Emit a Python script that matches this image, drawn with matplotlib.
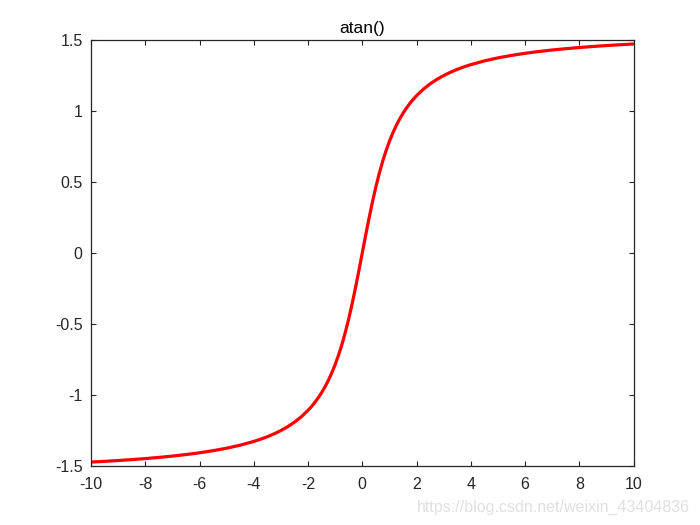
import matplotlib
matplotlib.use("Agg")
import matplotlib.pyplot as plt

# Values (atan shape)
x_pos = [0, 0.125, 0.25, 0.375, 0.5, 0.625, 0.75, 0.875, 1, 1.125, 1.25, 1.375, 1.5,
         1.625, 1.75, 1.875, 2, 2.25, 2.5, 2.75, 3, 3.25, 3.5, 3.75, 4, 4.5, 5, 5.5,
         6, 6.5, 7, 7.5, 8, 8.5, 9, 9.5, 10]
y_pos = [0.0, 0.1244, 0.2450, 0.3588, 0.4636, 0.5586, 0.6435, 0.7188, 0.7854, 0.8442,
         0.8961, 0.9420, 0.9828, 1.0190, 1.0517, 1.0808, 1.1071, 1.1526, 1.1903,
         1.2220, 1.2490, 1.2723, 1.2925, 1.3102, 1.3258, 1.3521, 1.3734, 1.3909,
         1.4056, 1.4181, 1.4289, 1.4382, 1.4464, 1.4537, 1.4601, 1.4659, 1.4711]
x_vals = [-v for v in x_pos[:0:-1]] + x_pos
y_vals = [-v for v in y_pos[:0:-1]] + y_pos
x_ticks = [-10, -8, -6, -4, -2, 0, 2, 4, 6, 8, 10]
x_labels = ["-10", "-8", "-6", "-4", "-2", "0", "2", "4", "6", "8", "10"]
y_ticks = [-1.5, -1, -0.5, 0, 0.5, 1, 1.5]
y_labels = ["-1.5", "-1", "-0.5", "0", "0.5", "1", "1.5"]
title = "atan()"
watermark = "https://blog.csdn.net/weixin_43404836"

plt.rcParams['font.family'] = ['Liberation Sans', 'DejaVu Sans']
fig = plt.figure(figsize=(7, 5.25), dpi=100)
ax = fig.add_axes([0.13, 0.112, 0.775, 0.812])
dark = (0.15, 0.15, 0.15)
ax.plot(x_vals, y_vals, color=(1, 0, 0), lw=2.3, solid_joinstyle='round')
ax.set_xlim(-10, 10)
ax.set_ylim(-1.5, 1.5)
ax.set_xticks(x_ticks)
ax.set_xticklabels(x_labels)
ax.set_yticks(y_ticks)
ax.set_yticklabels(y_labels)
ax.tick_params(direction='in', top=True, right=True, length=3.8, width=0.8,
               labelsize=11.5, colors=dark)
ax.tick_params(axis='x', pad=8)
ax.tick_params(axis='y', pad=6)
for s in ax.spines.values():
    s.set_linewidth(0.9)
    s.set_color(dark)
ax.set_title(title, fontsize=12.5, color='black', pad=5)
fig.text(0.985, 0.034, watermark, ha='right', va='center', fontsize=11.5,
         color=(0.88, 0.88, 0.88))
fig.savefig("out.png", dpi=100)
